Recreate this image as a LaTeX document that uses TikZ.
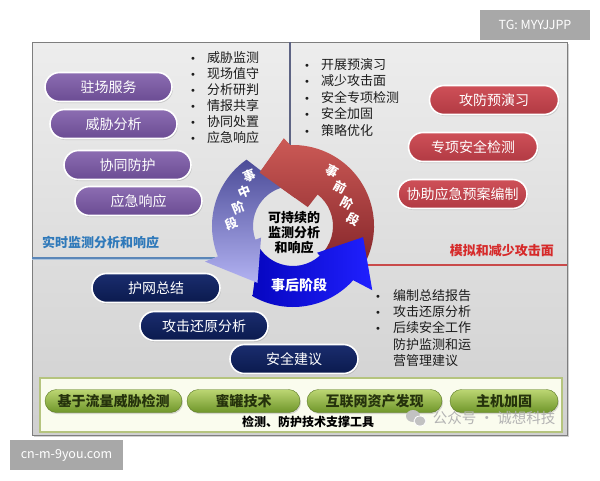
\documentclass[tikz,border=0pt]{standalone}
\usepackage{fontspec}
\setmainfont{Noto Sans CJK SC}
\newfontfamily\bulfont{DejaVu Sans}
\usetikzlibrary{shapes.misc,shadows}
\definecolor{purpT}{HTML}{8C6DB2}
\definecolor{purpB}{HTML}{6B4C93}
\definecolor{redT}{HTML}{CF5058}
\definecolor{redB}{HTML}{B13A43}
\definecolor{navyT}{HTML}{1A2D6E}
\definecolor{navyB}{HTML}{0B1A4E}
\definecolor{grnT}{HTML}{BCD673}
\definecolor{grnB}{HTML}{6F962A}
\definecolor{grnText}{HTML}{25320C}
\definecolor{grnBg}{HTML}{FAFCEE}
\definecolor{grnBorder}{HTML}{B5C47E}
\definecolor{panelT}{HTML}{EDEDED}
\definecolor{panelB}{HTML}{D0D0D0}
\definecolor{frameGray}{HTML}{7E7E7E}
\definecolor{divGray}{HTML}{5E6484}
\definecolor{lineBlue}{HTML}{5A86B8}
\definecolor{lineRed}{HTML}{C94A4A}
\definecolor{lblBlue}{HTML}{2F79BA}
\definecolor{lblRed}{HTML}{D62A2A}
\definecolor{wmGray}{HTML}{A8A8A8}
\definecolor{wmText}{HTML}{B3B3B3}
\definecolor{txt}{HTML}{1C1C1C}
\definecolor{ringRedT}{HTML}{CC5A56}
\definecolor{ringRedB}{HTML}{88282C}
\definecolor{ringPurT}{HTML}{4C4C98}
\definecolor{ringPurB}{HTML}{B2B2F2}
\definecolor{ringBluL}{HTML}{0606C0}
\definecolor{ringBluR}{HTML}{2020FF}
\definecolor{innerGray}{HTML}{E3E3E3}
\newcommand\bu[1]{\makebox[#1][l]{{\bulfont\fontsize{10}{10}\selectfont •}}}
\begin{document}
\begin{tikzpicture}[x=1pt,y=-1pt,
 pill/.style={rounded rectangle, draw=white, line width=1.6pt, text=white, inner sep=0pt,
   font=\fontsize{14}{14}\selectfont,
   drop shadow={opacity=0.3, shadow xshift=1pt, shadow yshift=-1.5pt}},
 ppill/.style={pill, top color=purpT, bottom color=purpB, minimum width=127pt, minimum height=29pt},
 rpill/.style={pill, top color=redT, bottom color=redB, minimum width=129pt, minimum height=29pt},
 npill/.style={pill, top color=navyT, bottom color=navyB, minimum width=128pt, minimum height=29pt},
 gpill/.style={pill, draw=grnB!80!black, line width=0.4pt, top color=grnT, bottom color=grnB,
   text=grnText, font=\bfseries\fontsize{14}{14}\selectfont, minimum height=23pt},
 blist/.style={anchor=north west, align=left, text=txt, inner sep=0pt},
 ringtxt/.style={text=white, font=\bfseries\fontsize{12.5}{12.5}\selectfont, inner sep=0pt},
 wmbox/.style={fill=wmGray, text=white, inner sep=0pt, font=\fontsize{12.5}{12.5}\selectfont}
]
\useasboundingbox (0,0) rectangle (600,480);
\fill[white] (0,0) rectangle (600,480);

% watermark boxes
\node[wmbox, minimum width=110pt, minimum height=30pt] (tg) at (535,25) {TG: MYYJJPP};
\node[wmbox, minimum width=113pt, minimum height=30pt] (cn) at (66.5,455) {cn-m-9you.com};

% panel
\fill[black!18] (34,44) rectangle (569,437);
\shade[top color=panelT, bottom color=panelB] (32,42) rectangle (567,435);
\draw[frameGray, line width=1pt] (32,42) rectangle (567,435);

% dividers
\coordinate (vtop) at (290,42);
\coordinate (vbot) at (290,150);
\draw[divGray, line width=1.2pt] (vtop) -- (vbot);
\coordinate (lbA) at (32,258);
\coordinate (lbB) at (215,258);
\draw[lineBlue!50, line width=1pt] ([yshift=-1.5pt]lbA) -- ([yshift=-1.5pt]lbB);
\draw[lineBlue, line width=1.5pt] (lbA) -- (lbB);
\coordinate (lrA) at (366,265);
\coordinate (lrB) at (567,265);
\draw[lineRed, line width=1.5pt] (lrA) -- (lrB);

% section labels
\node[anchor=west, inner sep=0pt, text=lblBlue, font=\bfseries\fontsize{13}{13}\selectfont] (lblL) at (42,243) {实时监测分析和响应};
\node[anchor=east, inner sep=0pt, text=lblRed, font=\bfseries\fontsize{13}{13}\selectfont] (lblR) at (554,251) {模拟和减少攻击面};

% bullet lists
\node[blist, font=\fontsize{13}{16}\selectfont] (listL) at (190,51)
 {\bu{17pt}威胁监测\\\bu{17pt}现场值守\\\bu{17pt}分析研判\\\bu{17pt}情报共享\\\bu{17pt}协同处置\\\bu{17pt}应急响应};
\node[blist, font=\fontsize{13}{16.5}\selectfont] (listR) at (304,58)
 {\bu{17pt}开展预演习\\\bu{17pt}减少攻击面\\\bu{17pt}安全专项检测\\\bu{17pt}安全加固\\\bu{17pt}策略优化};
\node[blist, font=\fontsize{13}{16.3}\selectfont] (listB) at (375,289)
 {\bu{18pt}编制总结报告\\\bu{18pt}攻击还原分析\\\bu{18pt}后续安全工作\\\hspace*{18pt}防护监测和运\\\hspace*{18pt}营管理建议};

% purple pills
\node[ppill] (p1) at (108.5,87) {驻场服务};
\node[ppill] (p2) at (113.5,124) {威胁分析};
\node[ppill] (p3) at (127.5,165) {协同防护};
\node[ppill] (p4) at (138.5,201) {应急响应};

% red pills
\node[rpill] (r1) at (494,100) {攻防预演习};
\node[rpill] (r2) at (473,147) {专项安全检测};
\node[rpill] (r3) at (462.5,194) {协助应急预案编制};

% navy pills
\node[npill] (n1) at (156,288) {护网总结};
\node[npill] (n2) at (204,326) {攻击还原分析};
\node[npill] (n3) at (294,359) {安全建议};

% tools area
\draw[fill=grnBg, draw=grnBorder, line width=1.2pt] (40,378) rectangle (562,432);
\node[gpill, minimum width=137pt] (g1) at (113.5,401) {基于流量威胁检测};
\node[gpill, minimum width=113pt] (g2) at (243.5,401) {蜜罐技术};
\node[gpill, minimum width=135pt] (g3) at (374.5,401) {互联网资产发现};
\node[gpill, minimum width=108pt] (g4) at (504,401) {主机加固};
\node[inner sep=0pt, text=black, font=\bfseries\fontsize{12}{12}\selectfont] (tools) at (308,422) {检测、防护技术支撑工具};

% wechat-like watermark
\fill[wmText!80] (413,416) ellipse [x radius=7, y radius=6];
\draw[white, line width=0.8pt, fill=wmText!80] (420,421) ellipse [x radius=6, y radius=5];
\node[inner sep=0pt, text=wmText, font=\fontsize{14.5}{14.5}\selectfont] (wm) at (494,418) {公众号 · 诚想科技};

% ring
\begin{scope}[shift={(293,226)}, y=1pt]
\def\redarr{(-24:81) arc[start angle=-24,end angle=92,radius=81] -- (96:88) -- (122:63) -- (52:24) -- (52:40) arc[start angle=52,end angle=-40,radius=40] -- cycle}
\def\purarr{(125:81) arc[start angle=125,end angle=202,radius=81] -- (202:95) -- (238:67) -- (200:34) -- (200:40) arc[start angle=200,end angle=105,radius=40] -- cycle}
\def\bluarr{(240:81) arc[start angle=240,end angle=318,radius=81] -- (321:102) -- (351:71) -- (312:36) -- (312:40) arc[start angle=312,end angle=212,radius=40] -- cycle}
\fill[innerGray] (0,0) circle [radius=40];
\shade[top color=ringRedT, bottom color=ringRedB] \redarr;
\shade[left color=ringBluL, right color=ringBluR] \bluarr;
\shade[top color=ringPurT, bottom color=ringPurB] \purarr;
\begin{scope}
\clip (0,0) -- (86:110) arc[start angle=86,end angle=140,radius=110] -- cycle;
\shade[top color=ringRedT, bottom color=ringRedB] \redarr;
\end{scope}
\end{scope}

% ring texts
\node[ringtxt, rotate=-28] (rq1) at (332,171) {事};
\node[ringtxt, rotate=-28] (rq2) at (340,187) {前};
\node[ringtxt, rotate=-28] (rq3) at (347,203) {阶};
\node[ringtxt, rotate=-28] (rq4) at (353,219) {段};
\node[ringtxt, rotate=22] (pz1) at (250,176) {事};
\node[ringtxt, rotate=22] (pz2) at (245,192) {中};
\node[ringtxt, rotate=22] (pz3) at (238,208) {阶};
\node[ringtxt, rotate=22] (pz4) at (231,224) {段};
\node[text=white, inner sep=0pt, font=\bfseries\fontsize{14}{14}\selectfont] (bh) at (299,285) {事后阶段};
\node[align=center, inner sep=0pt, text=black, font=\bfseries\fontsize{13}{15}\selectfont] (ctr) at (294,233) {可持续的\\监测分析\\和响应};
\end{tikzpicture}
\end{document}
